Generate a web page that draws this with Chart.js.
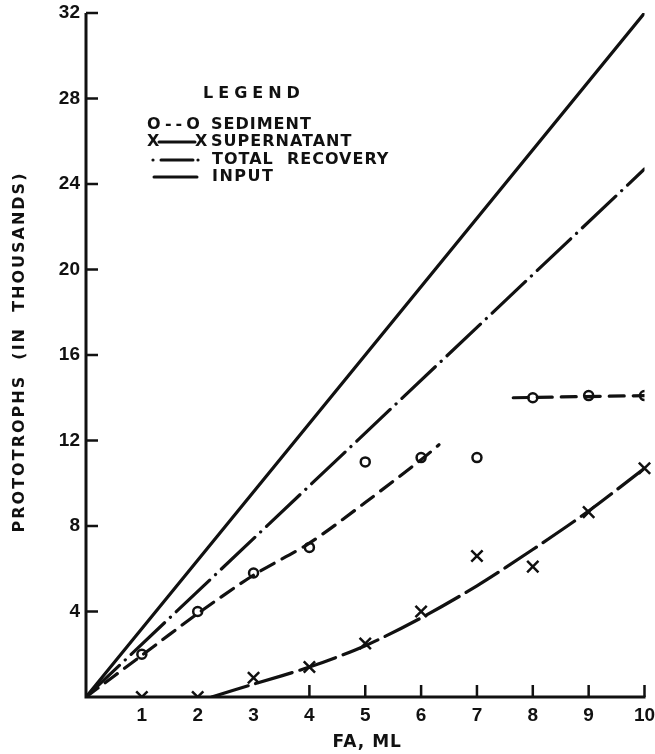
<!DOCTYPE html>
<html>
<head>
<meta charset="utf-8">
<script src="https://cdn.jsdelivr.net/npm/chart.js@4.4.0/dist/chart.umd.min.js"></script>
<style>
  html, body { margin: 0; padding: 0; background: #fff; }
  canvas { display: block; }
</style>
</head>
<body>
<canvas id="grafico" width="655" height="754"></canvas>
<script>
// observed points
const faMl = [1, 2, 3, 4, 5, 6, 7, 8, 9, 10]
const sedimento = [2.0, 4.0, 5.8, 7.0, 11.0, 11.2, 11.2, 14.0, 14.1, 14.1]
const sobrenadante = [0, 0, 0.9, 1.4, 2.5, 4.0, 6.6, 6.1, 8.65, 10.7]

// drawn curves
const inputX = [0, 10]
const inputY = [0, 32]
const totalX = [0, 10]
const totalY = [0, 24.7]
const sedCurvaX = [0, 1, 2, 3, 4, 5, 6, 6.32]
const sedCurvaY = [0, 1.95, 3.9, 5.7, 7.2, 9.1, 11.1, 11.8]
const sedPlanoX = [7.65, 10]
const sedPlanoY = [14.0, 14.1]
const supCurvaX = [2.25, 3, 4, 5, 6, 7, 8, 9, 10]
const supCurvaY = [0, 0.6, 1.4, 2.4, 3.7, 5.2, 6.9, 8.7, 10.7]

// axis ticks (marks at 1-3 on x are hidden in the original)
const ticksX = [0, 1, 2, 3, 4, 5, 6, 7, 8, 9, 10]
const marcasX = [4, 5, 6, 7, 8, 9, 10]
const ticksY = [0, 4, 8, 12, 16, 20, 24, 28, 32]

const tinta = '#111'
const fuente = 'DejaVu Sans'

const puntos = (xs, ys) => xs.map((x, i) => ({ x, y: ys[i] }))

const linea = (xs, ys, dash, extra = {}) => ({
  data: puntos(xs, ys),
  showLine: true,
  borderColor: tinta,
  borderWidth: 3.2,
  borderDash: dash,
  borderCapStyle: 'round',
  pointRadius: 0,
  fill: false,
  ...extra,
})

const texto = (ctx, str, x, y, size, spacing = 0, align = 'left') => {
  ctx.font = `bold ${size}px "${fuente}"`
  ctx.letterSpacing = spacing + 'px'
  ctx.textAlign = align
  ctx.textBaseline = 'middle'
  ctx.fillText(str, x, y)
}

const ejes = {
  id: 'ejes',
  afterDatasetsDraw(chart) {
    const { ctx, chartArea: a, scales: { x, y } } = chart
    ctx.save()
    ctx.strokeStyle = tinta
    ctx.lineWidth = 3
    ctx.beginPath()
    ctx.moveTo(a.left, a.top)
    ctx.lineTo(a.left, a.bottom)
    ctx.lineTo(a.right + 1, a.bottom)
    ctx.stroke()

    ctx.lineWidth = 2.5
    ctx.beginPath()
    marcasX.forEach((v) => {
      const px = x.getPixelForValue(v)
      ctx.moveTo(px, a.bottom)
      ctx.lineTo(px, a.bottom - 12)
    })
    ticksY.slice(1).forEach((v) => {
      const py = y.getPixelForValue(v)
      ctx.moveTo(a.left, py)
      ctx.lineTo(a.left + 12, py)
    })
    ctx.stroke()
    ctx.restore()
  },
  afterDraw(chart) {
    const { ctx, chartArea: a, scales: { x } } = chart
    ctx.save()
    ctx.fillStyle = tinta
    ctx.strokeStyle = tinta

    // axis titles
    texto(ctx, 'FA, ML', x.getPixelForValue(5) + 2, a.bottom + 46, 17, 1, 'center')
    ctx.save()
    ctx.translate(20, (a.top + a.bottom) / 2 - 3)
    ctx.rotate(-Math.PI / 2)
    texto(ctx, 'PROTOTROPHS  (IN  THOUSANDS)', 0, 0, 16, 2, 'center')
    ctx.restore()

    // legend
    texto(ctx, 'LEGEND', 203, 94, 16, 5)
    texto(ctx, 'O--O', 147, 125, 16, 4)
    texto(ctx, 'SEDIMENT', 211, 125, 16, 1)
    texto(ctx, 'X', 147, 142, 16)
    texto(ctx, 'X', 195, 142, 16)
    texto(ctx, 'SUPERNATANT', 211, 142, 16, 1)
    texto(ctx, 'TOTAL  RECOVERY', 212, 160, 16, 1)
    texto(ctx, 'INPUT', 212, 177, 16, 1.5)

    ctx.lineWidth = 3
    ctx.lineCap = 'round'
    ctx.beginPath()
    ctx.moveTo(159, 142)
    ctx.lineTo(195, 142)
    ctx.moveTo(161, 160)
    ctx.lineTo(193, 160)
    ctx.moveTo(154, 177)
    ctx.lineTo(197, 177)
    ctx.stroke()
    ctx.beginPath()
    ctx.arc(153, 160, 1.6, 0, Math.PI * 2)
    ctx.arc(198, 160, 1.6, 0, Math.PI * 2)
    ctx.fill()
    ctx.restore()
  },
}

const fuenteTicks = { family: 'Liberation Sans', size: 19, weight: 'bold' }

new Chart(document.getElementById('grafico'), {
  type: 'scatter',
  data: {
    datasets: [
      linea(inputX, inputY, []),
      linea(totalX, totalY, [46, 8, 0.1, 8]),
      linea(sedCurvaX, sedCurvaY, [15, 9], { tension: 0.3 }),
      linea(sedPlanoX, sedPlanoY, [15, 9]),
      linea(supCurvaX, supCurvaY, [38, 8], { tension: 0.3 }),
      {
        data: puntos(faMl, sedimento),
        showLine: false,
        pointStyle: 'circle',
        pointRadius: 4.5,
        pointBorderWidth: 2.5,
        pointBackgroundColor: '#fff',
        pointBorderColor: tinta,
      },
      {
        data: puntos(faMl, sobrenadante),
        showLine: false,
        pointStyle: 'crossRot',
        pointRadius: 8,
        pointBorderWidth: 2.5,
        pointBorderColor: tinta,
        clip: { left: 10, top: 10, right: 10, bottom: 0 },
      },
    ],
  },
  options: {
    responsive: false,
    animation: false,
    devicePixelRatio: 1,
    layout: { padding: { top: 13, right: 8, left: 0, bottom: 0 } },
    plugins: { legend: { display: false }, tooltip: { enabled: false } },
    scales: {
      x: {
        type: 'linear',
        min: 0,
        max: 10,
        afterBuildTicks: (s) => { s.ticks = ticksX.map((value) => ({ value })) },
        ticks: {
          callback: (v) => (v === 0 ? '' : v),
          font: fuenteTicks,
          color: tinta,
          padding: 7,
          maxRotation: 0,
          autoSkip: false,
        },
        grid: { display: false, drawTicks: false },
        border: { display: false },
        afterFit: (s) => {
          s.height = 57
          s.paddingLeft = 0
          s.paddingRight = 0
        },
      },
      y: {
        type: 'linear',
        min: 0,
        max: 32,
        afterBuildTicks: (s) => { s.ticks = ticksY.map((value) => ({ value })) },
        ticks: {
          callback: (v) => (v === 0 ? '' : v),
          font: fuenteTicks,
          color: tinta,
          padding: 6,
          autoSkip: false,
        },
        grid: { display: false, drawTicks: false },
        border: { display: false },
        afterFit: (s) => {
          s.width = 86
          s.paddingTop = 0
          s.paddingBottom = 0
        },
      },
    },
  },
  plugins: [ejes],
})
</script>
</body>
</html>
